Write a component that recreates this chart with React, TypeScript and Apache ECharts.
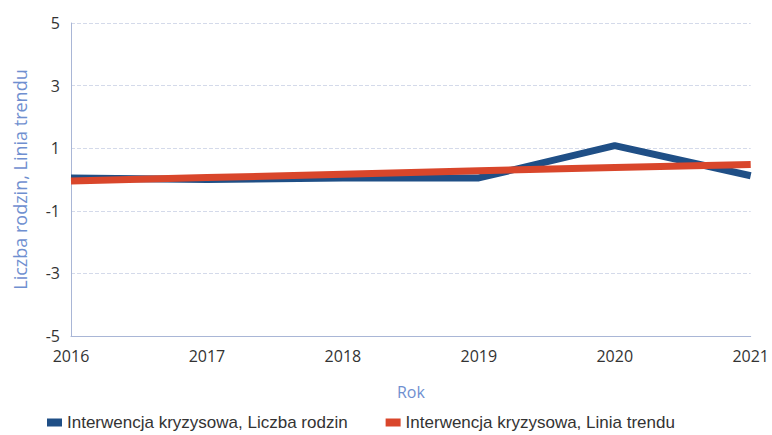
import React, { useEffect, useRef } from "react";
import * as echarts from "echarts";

const years = ["2016", "2017", "2018", "2019", "2020", "2021"];
const liczbaRodzin = [0.05, 0.0, 0.05, 0.05, 1.08, 0.12];
const liniaTrendu = [-0.05, 0.06, 0.17, 0.28, 0.38, 0.48];
const seriesNames = [
  "Interwencja kryzysowa, Liczba rodzin",
  "Interwencja kryzysowa, Linia trendu",
];

export default function App() {
  const ref = useRef<HTMLDivElement>(null);
  useEffect(() => {
    const chart = echarts.init(ref.current!, null, { renderer: "svg" });
    chart.setOption({
      animation: false,
      backgroundColor: "#ffffff",
      grid: { left: 71, right: 20, top: 23, bottom: 99 },
      legend: {
        top: 413,
        left: 47,
        padding: 0,
        itemWidth: 15,
        itemHeight: 8,
        itemGap: 38,
        icon: "rect",
        textStyle: { fontFamily: "Liberation Sans", fontSize: 17, lineHeight: 19, color: "#333" },
        data: seriesNames,
      },
      xAxis: {
        type: "category",
        data: years,
        boundaryGap: false,
        name: "Rok",
        nameLocation: "middle",
        nameGap: 48,
        nameTextStyle: { color: "#6f8fd0", fontFamily: "Open Sans", fontSize: 16 },
        axisLine: { onZero: false, lineStyle: { color: "#a9b6d6", width: 1 } },
        axisTick: { show: false },
        axisLabel: { color: "#333", fontFamily: "Open Sans", fontSize: 16, margin: 12 },
        splitLine: { show: false },
      },
      yAxis: {
        type: "value",
        min: -5,
        max: 5,
        interval: 2,
        name: "Liczba rodzin, Linia trendu",
        nameLocation: "middle",
        nameGap: 42,
        nameTextStyle: { color: "#6f8fd0", fontFamily: "Open Sans", fontSize: 18 },
        axisLine: { show: true, lineStyle: { color: "#a9b6d6", width: 1 } },
        axisTick: { show: false },
        axisLabel: { color: "#333", fontFamily: "Open Sans", fontSize: 16, margin: 11 },
        splitLine: { lineStyle: { color: "#d4daea", type: "dashed", width: 1 } },
      },
      series: [
        {
          name: seriesNames[0],
          type: "line",
          data: liczbaRodzin,
          symbol: "none",
          lineStyle: { color: "#1f4f86", width: 7 },
          itemStyle: { color: "#1f4f86" },
        },
        {
          name: seriesNames[1],
          type: "line",
          data: liniaTrendu,
          symbol: "none",
          lineStyle: { color: "#d9462b", width: 7 },
          itemStyle: { color: "#d9462b" },
        },
      ],
    });
    return () => chart.dispose();
  }, []);
  return <div ref={ref} style={{ width: 772, height: 435, position: "absolute", left: 0, top: 0 }} />;
}
